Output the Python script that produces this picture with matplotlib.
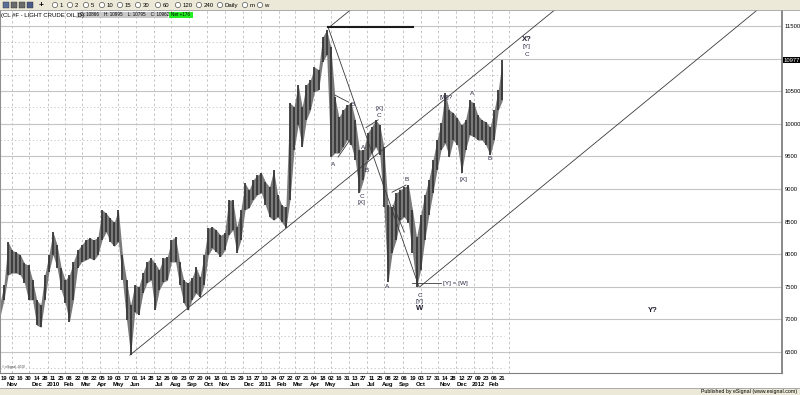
import numpy as np
import pandas as pd
import matplotlib
matplotlib.use("Agg")
import matplotlib.pyplot as plt
from matplotlib.patches import Rectangle, Circle

plt.rcParams['font.family'] = ['Liberation Sans', 'DejaVu Sans']

# weekly bars, x = trading day index (0 = 19 Oct 2009)
bar_days = list(range(-5, 615, 5))
bar_high = [7250, 7530, 8190, 8060, 8030, 7990, 7860, 7830, 7600, 7300,
            7220, 7680, 7990, 8340, 8140, 7790, 7600, 7680, 7880, 8060,
            8140, 8220, 8250, 8220, 8260, 8680, 8630, 8550, 8490, 8680,
            7990, 7600, 7220, 7530, 7500, 7710, 7880, 7940, 7860, 7760,
            7940, 7960, 8220, 8260, 7880, 7600, 7560, 7630, 7800, 7650,
            7990, 8400, 8420, 8370, 8290, 8320, 8830, 8830, 8420, 8680,
            9090, 8980, 9140, 9210, 9250, 9110, 9030, 9290, 8910, 8750,
            8720, 10320, 10260, 10600, 10260, 10600, 10670, 10870, 10830, 11330,
            11440, 11180, 10410, 10100, 10210, 10290, 10320, 10060, 9600, 9600,
            9860, 9950, 10060, 9980, 9640, 8750, 8720, 8940, 8980, 9030,
            9060, 8680, 8260, 8600, 8910, 9140, 9440, 9750, 10010, 10470,
            10210, 10170, 10090, 9980, 10060, 10360, 10320, 10130, 10060, 10030,
            9950, 10210, 10520, 10977]
bar_low = [7040, 7300, 7680, 7710, 7710, 7680, 7560, 7300, 7300, 6910,
           6880, 7300, 7730, 7990, 7790, 7450, 7250, 6960, 7300, 7790,
           7880, 7910, 7940, 7910, 7990, 8220, 8340, 8190, 8120, 8190,
           7600, 6990, 6450, 7110, 7070, 7400, 7560, 7600, 7140, 7450,
           7570, 7600, 7880, 7880, 7530, 7250, 7140, 7300, 7400, 7340,
           7530, 7990, 8090, 8030, 7960, 8060, 8290, 8370, 8020, 8220,
           8680, 8710, 8830, 8910, 8940, 8750, 8570, 8520, 8570, 8490,
           8400, 8830, 9600, 9980, 9640, 10060, 10210, 10490, 10520, 10950,
           11060, 9490, 9550, 9550, 9640, 9750, 9670, 9440, 8940, 9140,
           9440, 9550, 9640, 9520, 8720, 7570, 8020, 8220, 8520, 8570,
           8480, 8020, 7500, 7760, 8220, 8600, 8940, 9290, 9600, 9700,
           9490, 9750, 9670, 9250, 9600, 9830, 9800, 9750, 9750, 9670,
           9520, 9750, 10210, 10360]
last_price = 10977

# date axis, one label every 10 trading days
tick_days = ["19", "02", "16", "30", "14", "28", "11", "25", "08", "22", "08", "22",
             "05", "19", "03", "17", "01", "14", "28", "12", "26", "09", "23", "07",
             "20", "04", "18", "01", "15", "29", "13", "27", "10", "24", "07", "22",
             "07", "21", "04", "18", "02", "16", "31", "13", "27", "11", "25", "08",
             "22", "06", "19", "03", "17", "31", "14", "28", "12", "27", "09", "23",
             "06", "21"]
month_ticks = [1, 4, 6, 8, 10, 12, 14, 16, 19, 21, 23, 25, 27, 30, 32, 34, 36, 38,
               40, 43, 45, 47, 49, 51, 54, 56, 58, 60]
month_names = ["Nov", "Dec", "2010", "Feb", "Mar", "Apr", "May", "Jun", "Jul", "Aug",
               "Sep", "Oct", "Nov", "Dec", "2011", "Feb", "Mar", "Apr", "May", "Jun",
               "Jul", "Aug", "Sep", "Oct", "Nov", "Dec", "2012", "Feb"]
price_ticks = [6500, 7000, 7500, 8000, 8500, 9000, 9500, 10000, 10500, 11500]

# hand drawn analysis lines (trading day, price)
trend_lines = [((154, 6450), (674, 11745)),
               ((397, 11470), (424, 11745)),
               ((509, 7500), (922, 11745)),
               ((397, 11470), (508, 7500)),
               ((405, 10440), (422, 10330)),
               ((409, 9490), (425, 9780)),
               ((443, 9940), (458, 10060)),
               ((475, 8950), (492, 9060)),
               ((476, 8750), (490, 8340)),
               ((499, 7550), (535, 7550))]
peak_line = ((397, 11485), (501, 11485))

wave_labels = [("A", 403, 9370), ("B", 427, 10300), ("A", 439, 9640), ("B", 444, 9280),
               ("C", 438, 8880), ("[X]", 438, 8790), ("[X]", 459, 10240), ("C", 459, 10130),
               ("A", 469, 7500), ("B", 493, 9150), ("C", 509, 7370), ("[Y]", 509, 7270),
               ("[W]?", 541, 10410), ("[X]", 562, 9140), ("A", 573, 10470), ("B", 594, 9460),
               ("[Y]", 640, 11180), ("C", 640, 11070)]
bold_labels = [("X?", 640, 11300), ("W", 509, 7170), ("Y?", 794, 7140)]

fig = plt.figure(figsize=(8, 3.95), dpi=100)
fig.patch.set_facecolor('white')
ax = fig.add_axes([0, 22 / 395, 782 / 800, 363 / 395])
ax.set_xlim(-4.9, 952.3)
ax.set_ylim(6177, 11745)

# grid
for p in range(6500, 11501, 500):
    ax.axhline(p, color='#c4c4c4', lw=0.8, zorder=0)
for p in range(6250, 11751, 500):
    ax.hlines(p, -5, 612, color='#c4c4c4', lw=0.7, linestyles=(0, (1.2, 2.5)), zorder=0)
bd = pd.bdate_range('2009-10-19', periods=620)
mon = bd.to_period('M')
starts = np.where(mon[1:] != mon[:-1])[0] + 1
for s in starts:
    ax.axvline(s, color='#c4c4c4', lw=0.7, ls=(0, (2.5, 2.5)), zorder=0)

# price bars: weekly range band plus bars
ax.fill_between(bar_days, bar_low, bar_high, color='#7a7a7a', lw=0, zorder=1)
ax.vlines(bar_days, bar_low, bar_high, color='#383838', lw=1.3, zorder=2)

for (a, b) in trend_lines:
    ax.plot([a[0], b[0]], [a[1], b[1]], color='#3a3a3a', lw=0.6, zorder=3)
ax.plot([peak_line[0][0], peak_line[1][0]], [peak_line[0][1], peak_line[1][1]],
        color='#1a1a1a', lw=1.5, zorder=3)

for t, d, p in wave_labels:
    ax.text(d, p, t, fontsize=4.6, color='#2a2a44', ha='center', va='center', zorder=4)
for t, d, p in bold_labels:
    ax.text(d, p, t, fontsize=5.5, color='#1a1a2a', ha='center', va='center',
            fontweight='bold', zorder=4)
ax.text(537, 7550, "[Y] = [W]", fontsize=4.6, color='#2a2a44', ha='left', va='center', zorder=4)

# axes
ax.yaxis.tick_right()
ax.set_yticks(price_ticks)
ax.set_yticklabels([str(p) for p in price_ticks], fontsize=4.2)
ax.set_xticks([10 * k for k in range(len(tick_days))])
ax.set_xticklabels(tick_days, fontsize=4.2, fontweight='bold')
ax.tick_params(axis='both', length=0, pad=1.8)
ax.text(1 + 2 / 782, last_price, str(last_price), transform=ax.get_yaxis_transform(),
        fontsize=4.2, color='white', va='center', ha='left',
        bbox=dict(facecolor='black', edgecolor='none', pad=0.5))
for k, m in zip(month_ticks, month_names):
    ax.text(10 * k, -0.031, m, transform=ax.get_xaxis_transform(), fontsize=4.2,
            fontweight='bold', ha='center', va='center')
ax.spines['top'].set_visible(False)
ax.spines['right'].set_color('#808080')
ax.spines['right'].set_linewidth(1.3)
ax.spines['bottom'].set_color('#808080')
ax.spines['left'].set_color('#909090')

# window chrome in pixel units
ov = fig.add_axes([0, 0, 1, 1])
ov.set_xlim(0, 800)
ov.set_ylim(395, 0)
ov.axis('off')
ov.add_patch(Rectangle((0, 0), 800, 9.5, facecolor='#ece9d8', edgecolor='none'))
ov.plot([0, 800], [9.5, 9.5], color='#a0a0a0', lw=0.6)
for x0, c in zip([3, 11, 19, 27], ['#5a6e9a', '#6b6b6b', '#6b6b6b', '#4a5a8a']):
    ov.add_patch(Rectangle((x0, 2), 6, 5.5, facecolor=c, edgecolor='#303030', lw=0.3))
ov.text(41, 5, "+", fontsize=6, fontweight='bold', ha='center', va='center')
tb_labels = ["1", "2", "5", "10", "15", "30", "60", "120", "240", "Daily", "m", "w"]
tb_circ = [55, 70, 86, 102, 120, 138, 158, 178, 199, 220, 245, 260]
for cx, lab in zip(tb_circ, tb_labels):
    ov.add_patch(Circle((cx, 5), 2.6, facecolor='white', edgecolor='#303030', lw=0.4))
    ov.text(cx + 4.5, 5.2, lab, fontsize=4.3, ha='left', va='center')

ov.text(1, 15, "(CL #F - LIGHT CRUDE OIL,D)", fontsize=4.3, ha='left', va='center')
ov.add_patch(Rectangle((77, 12), 91, 6, facecolor='#c8c8c8', edgecolor='none'))
ov.text(80, 15, "O: 10866    H: 10995    L: 10795    C: 10962", fontsize=3.3,
        ha='left', va='center')
ov.add_patch(Rectangle((169, 12), 24, 6, facecolor='#22ee22', edgecolor='none'))
ov.text(171, 15, "Net +176", fontsize=3.3, ha='left', va='center')

ov.text(2, 367, "\u00a9 eSignal, 2010", fontsize=2.3, style='italic', color='#404040',
        ha='left', va='center')
ov.add_patch(Rectangle((0, 388), 800, 7, facecolor='#ece9d8', edgecolor='none'))
ov.plot([0, 800], [388, 388], color='#a0a0a0', lw=0.6)
ov.text(797, 391.5, "Published by eSignal (www.esignal.com)", fontsize=3.8,
        ha='right', va='center')

fig.savefig("out.png", dpi=100)
